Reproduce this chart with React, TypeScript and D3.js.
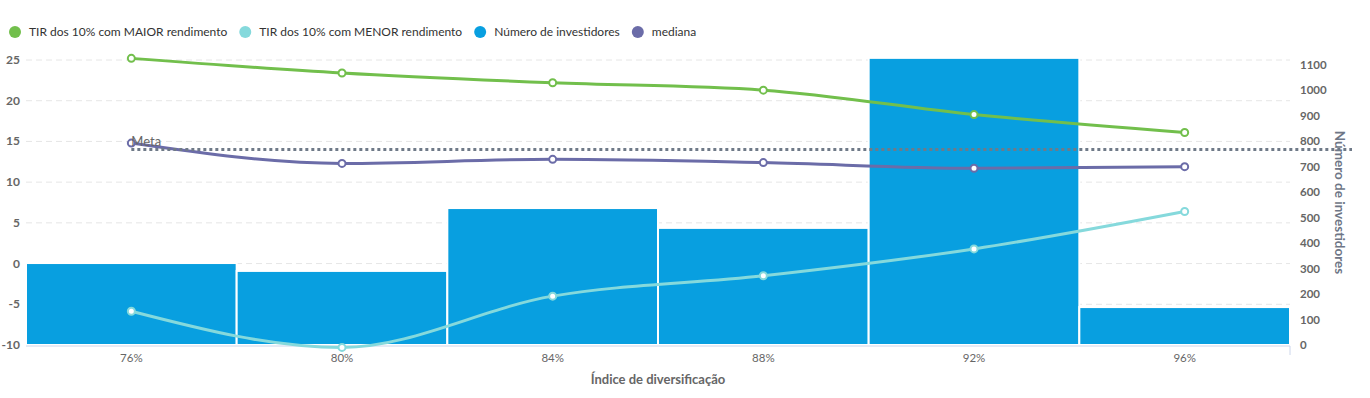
import React from 'react'
import * as d3 from 'd3'

const categories = ['76%', '80%', '84%', '88%', '92%', '96%']
const investidores = [322, 291, 538, 460, 1128, 149]
const tirMaior = [25.2, 23.4, 22.2, 21.3, 18.3, 16.1]
const tirMenor = [-5.85, -10.3, -4.0, -1.5, 1.8, 6.4]
const mediana = [14.8, 12.3, 12.8, 12.4, 11.7, 11.9]
const meta = 14
const leftTicks = [-10, -5, 0, 5, 10, 15, 20, 25]
const rightTicks = [0, 100, 200, 300, 400, 500, 600, 700, 800, 900, 1000, 1100]

const legend = [
  { label: 'TIR dos 10% com MAIOR rendimento', color: '#72bf4c' },
  { label: 'TIR dos 10% com MENOR rendimento', color: '#85d9dc' },
  { label: 'Número de investidores', color: '#089fe0' },
  { label: 'mediana', color: '#6b6ca8' },
]

const W = 1370
const H = 398
const left = 26
const right = 1290
const top = 60
const bottom = 345

const App = () => {
  const x = d3.scaleBand().domain(categories).range([left, right]).padding(0)
  const yL = d3.scaleLinear().domain([-10, 25]).range([bottom, top])
  const yR = d3.scaleLinear().domain([0, 1100]).range([bottom, 65])
  const cx = (c: string) => (x(c) as number) + x.bandwidth() / 2

  const mkLine = d3
    .line<number>()
    .x((_, i) => cx(categories[i]))
    .y((v) => yL(v))
    .curve(d3.curveMonotoneX)

  const series = [
    { data: tirMaior, color: legend[0].color },
    { data: tirMenor, color: legend[1].color },
    { data: mediana, color: legend[3].color },
  ]

  // legend x offsets
  const ctx = typeof document !== 'undefined' ? document.createElement('canvas').getContext('2d') : null
  if (ctx) ctx.font = '12px Lato'
  let lx = 15
  const legendItems = legend.map((l) => {
    const item = { ...l, x: lx }
    const w = ctx ? ctx.measureText(l.label).width : l.label.length * 6
    lx += 14 + w + 18
    return item
  })

  return (
    <svg width={W} height={H} style={{ position: 'absolute', left: 0, top: 0, fontFamily: 'Lato, sans-serif' }}>
      <rect width={W} height={H} fill="#fff" />
      {legendItems.map((l) => (
        <g key={l.label}>
          <circle cx={l.x} cy={32} r={6} fill={l.color} />
          <text x={l.x + 14} y={36} fontSize={12} fill="#333">{l.label}</text>
        </g>
      ))}

      {leftTicks.map((t) => (
        <g key={t}>
          <line x1={left} x2={right} y1={yL(t)} y2={yL(t)} stroke="#e6e6e6" strokeDasharray="6,4" />
          <text x={20} y={yL(t) + 4} textAnchor="end" fontSize={12} fontWeight="bold" fill="#666">{t}</text>
        </g>
      ))}
      {rightTicks.map((t) => (
        <text key={t} x={1300} y={yR(t) + 4} fontSize={11.5} fontWeight="bold" fill="#666">{t}</text>
      ))}

      {categories.map((c, i) => (
        <rect
          key={c}
          x={x(c) as number}
          y={yR(investidores[i])}
          width={x.bandwidth()}
          height={bottom - yR(investidores[i])}
          fill="#089fe0"
          stroke="#fff"
          strokeWidth={2}
        />
      ))}

      <line x1={left} x2={right} y1={bottom + 1} y2={bottom + 1} stroke="#ccd6eb" />
      <line x1={right} x2={right} y1={bottom + 1} y2={bottom + 10} stroke="#ccd6eb" />
      {categories.map((c) => (
        <text key={c} x={cx(c)} y={362} textAnchor="middle" fontSize={11.5} fill="#666">{c}</text>
      ))}
      <text x={(left + right) / 2} y={384} textAnchor="middle" fontSize={13} fontWeight="bold" fill="#666">
        Índice de diversificação
      </text>
      <text
        transform={`translate(1335, ${(top + bottom) / 2}) rotate(90)`}
        textAnchor="middle"
        fontSize={13.5}
        fontWeight="bold"
        fill="#6e7686"
      >
        Número de investidores
      </text>

      {series.map((s, k) => (
        <g key={k}>
          <path d={mkLine(s.data) || ''} fill="none" stroke={s.color} strokeWidth={3} />
          {s.data.map((v, i) => (
            <circle key={i} cx={cx(categories[i])} cy={yL(v)} r={3.5} fill="#fff" stroke={s.color} strokeWidth={2} />
          ))}
        </g>
      ))}

      <line
        x1={cx(categories[0])}
        x2={1352}
        y1={yL(meta)}
        y2={yL(meta)}
        stroke="#6f7a88"
        strokeWidth={3}
        strokeDasharray="3,3"
      />
      <text x={cx(categories[0])} y={yL(meta) - 4} fontSize={13} fill="#666">Meta</text>
    </svg>
  )
}

export default App
